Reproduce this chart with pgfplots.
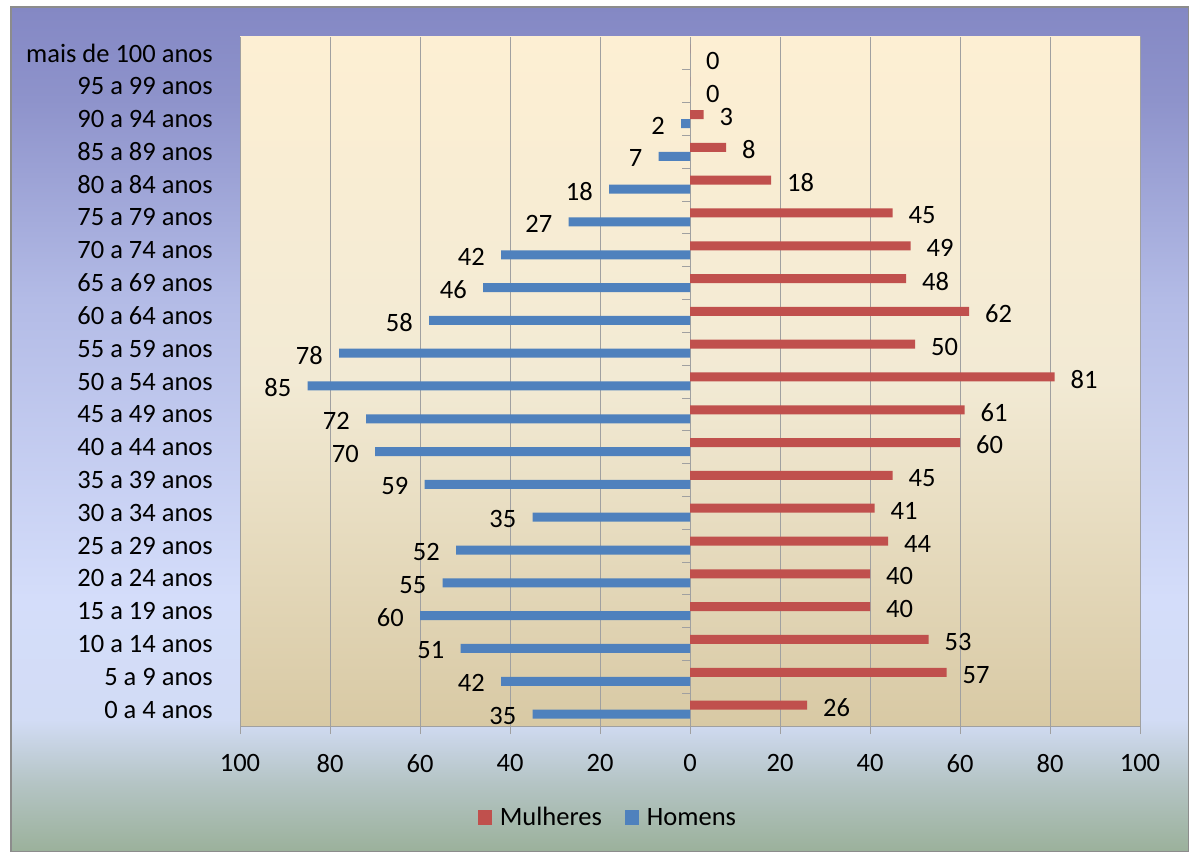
\documentclass[border=0pt]{standalone}
\usepackage{fontspec}
\setmainfont{Carlito}
\usepackage{pgfplots}
\usepackage{pgfplotstable}
\pgfplotsset{compat=1.18}
\definecolor{mred}{HTML}{C0504D}
\definecolor{mblue}{HTML}{4F81BD}
\definecolor{gridgray}{HTML}{A0A0A0}
\definecolor{framegray}{HTML}{8C8C8C}
\definecolor{bg0}{HTML}{9BB19B}
\definecolor{bg1}{HTML}{B4C4C4}
\definecolor{bg2}{HTML}{D2DCF5}
\definecolor{bg3}{HTML}{D4DDFA}
\definecolor{bg4}{HTML}{B3BBE6}
\definecolor{bg5}{HTML}{8E93CB}
\definecolor{bgtop}{HTML}{8488C4}
\definecolor{ptop}{HTML}{FDEFD3}
\definecolor{pmid}{HTML}{F2EAD4}
\definecolor{pbot}{HTML}{D8C9A4}
\pgfdeclareverticalshading{bgshade}{100bp}{color(0bp)=(bg0); color(25bp)=(bg0); color(29bp)=(bg1); color(32.8bp)=(bg2); color(40bp)=(bg3); color(57.7bp)=(bg4); color(69.5bp)=(bg5); color(75bp)=(bgtop); color(100bp)=(bgtop)}
\newcommand{\lbl}{\fontsize{26.5}{31}\selectfont}

\pgfplotstableread{
idx m
0 26
1 57
2 53
3 40
4 40
5 44
6 41
7 45
8 60
9 61
10 81
11 50
12 62
13 48
14 49
15 45
16 18
17 8
18 3
19 0
20 0
}\mulheres

\pgfplotstableread{
idx h
0 35
1 42
2 51
3 60
4 55
5 52
6 35
7 59
8 70
9 72
10 85
11 78
12 58
13 46
14 42
15 27
16 18
17 7
18 2
}\homens

\begin{document}
\begin{tikzpicture}[x=1pt,y=1pt]
\useasboundingbox (0,0) rectangle (1189,852);
\fill[white] (0,0) rectangle (1189,852);
\shadedraw[shading=bgshade, draw=framegray, line width=1.5pt] (10.75,0.75) rectangle (1188.25,845);
\begin{axis}[
  at={(240pt,126pt)}, anchor=south west,
  scale only axis, width=900pt, height=689pt,
  xmin=-100, xmax=100, ymin=-0.5, ymax=20.5,
  xbar, bar width=9pt,
  clip=false,
  /pgf/number format/assume math mode=true,
  axis x line*=bottom, axis y line*=left,
  y axis line style={draw=none},
  x axis line style={gridgray, line width=0.8pt, -},
  xtick={-100,-80,...,100},
  xticklabels={100,80,60,40,20,0,20,40,60,80,100},
  ytick={0,...,20},
  yticklabels={0 a 4 anos, 5 a 9 anos, 10 a 14 anos, 15 a 19 anos, 20 a 24 anos, 25 a 29 anos, 30 a 34 anos, 35 a 39 anos, 40 a 44 anos, 45 a 49 anos, 50 a 54 anos, 55 a 59 anos, 60 a 64 anos, 65 a 69 anos, 70 a 74 anos, 75 a 79 anos, 80 a 84 anos, 85 a 89 anos, 90 a 94 anos, 95 a 99 anos, mais de 100 anos},
  xmajorgrids, grid style={gridgray, line width=0.8pt},
  tick align=outside,
  major tick length=8pt,
  x tick style={gridgray, line width=0.8pt},
  y tick style={draw=none},
  tick label style={font=\lbl, text=black},
  xticklabel style={inner sep=0pt, anchor=north, yshift=-20pt},
  yticklabel style={inner sep=0pt, anchor=east, xshift=-19pt},
  axis background/.style={shade, top color=ptop, bottom color=pbot, middle color=pmid},
  point meta=explicit,
  nodes near coords={\pgfmathprintnumber[assume math mode=true]{\pgfplotspointmeta}},
  legend style={at={(axis description cs:0.4088,-0.1328)}, anchor=center, draw=none, fill=none, font=\lbl, text=black,
    /tikz/every even column/.append style={column sep=21pt}},
  legend columns=2,
]
\addplot[fill=mred, draw=none, bar shift=4.5pt,
  visualization depends on={\thisrow{m} \as \mval},
  every node near coord/.append style={font=\lbl, text=black, anchor=west, inner sep=0pt, xshift=16pt,
    yshift={ifthenelse(\mval==0,-12,-2.5)}},
  legend image code/.code={\fill[mred] (0pt,-7.5pt) rectangle (14pt,7.5pt); \path (20pt,0pt);}]
  table[x=m, y=idx, meta=m] {\mulheres};
\addlegendentry{Mulheres}
\addplot[fill=mblue, draw=none, bar shift=-4.5pt,
  every node near coord/.append style={font=\lbl, text=black, anchor=east, inner sep=0pt, xshift=-16pt, yshift=-2pt},
  legend image code/.code={\fill[mblue] (0pt,-7.5pt) rectangle (14pt,7.5pt); \path (20pt,0pt);}]
  table[x expr=-\thisrow{h}, y=idx, meta=h] {\homens};
\addlegendentry{Homens}
\pgfplotsinvokeforeach{0.5,1.5,...,19.5}{\draw[gridgray, line width=0.8pt] (axis cs:0,#1) -- ++(-8pt,0pt);}
\end{axis}
\end{tikzpicture}
\end{document}
